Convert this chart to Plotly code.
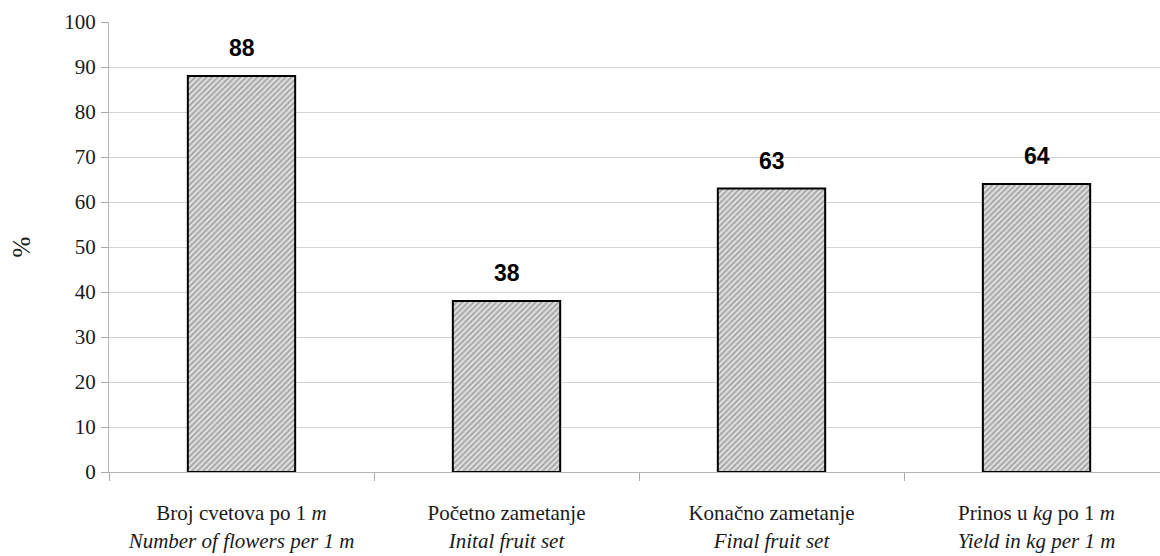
import plotly.graph_objects as go

# Category labels (Serbian line + English italic line)
categories = [
    "Broj cvetova po 1 <i>m</i><br><i>Number of flowers per 1 m</i>",
    "Početno zametanje<br><i>Inital fruit set</i>",
    "Konačno zametanje<br><i>Final fruit set</i>",
    "Prinos u <i>kg</i> po 1 <i>m</i><br><i>Yield in kg per 1 m</i>",
]
values = [88, 38, 63, 64]
y_ticks = [0, 10, 20, 30, 40, 50, 60, 70, 80, 90, 100]

serif = "Liberation Serif"
sans = "Liberation Sans"

fig = go.Figure()
fig.add_trace(go.Bar(
    x=categories,
    y=values,
    width=0.405,
    marker=dict(
        color="#e2e2e2",
        line=dict(color="#000000", width=2),
        pattern=dict(shape="/", size=4, solidity=0.5,
                     fgcolor="#6a6a6a", bgcolor="#e2e2e2"),
    ),
    hoverinfo="skip",
))

# Value labels above the bars
for c, v in zip(categories, values):
    fig.add_annotation(
        x=c, y=v, text=f"<b>{v}</b>", showarrow=False,
        yanchor="middle", yshift=28,
        font=dict(family=sans, size=23, color="#000000"),
    )

fig.update_layout(
    width=1160, height=556,
    margin=dict(l=109, r=0, t=22, b=84),
    paper_bgcolor="white", plot_bgcolor="white",
    showlegend=False,
    font=dict(family=serif),
)
fig.update_xaxes(
    type="category",
    range=[-0.5, 3.466],
    tickson="boundaries",
    ticks="outside", ticklen=8, tickcolor="#a8a8a8", tickwidth=1,
    showline=True, linecolor="#b4b4b4", linewidth=1,
    showgrid=False,
    ticklabelstandoff=22,
    tickfont=dict(family=serif, size=21, color="#1a1a1a"),
)
fig.update_yaxes(
    range=[0, 100],
    tickvals=y_ticks,
    ticks="outside", ticklen=7, tickcolor="#a8a8a8", tickwidth=1,
    showline=True, linecolor="#b4b4b4", linewidth=1,
    showgrid=True, gridcolor="#d4d4d4", gridwidth=1,
    zeroline=False,
    ticklabelstandoff=1,
    tickfont=dict(family=serif, size=21, color="#1a1a1a"),
    title=dict(text="%", standoff=26,
               font=dict(family=serif, size=25, color="#1a1a1a")),
)

fig.write_html("out.html")
